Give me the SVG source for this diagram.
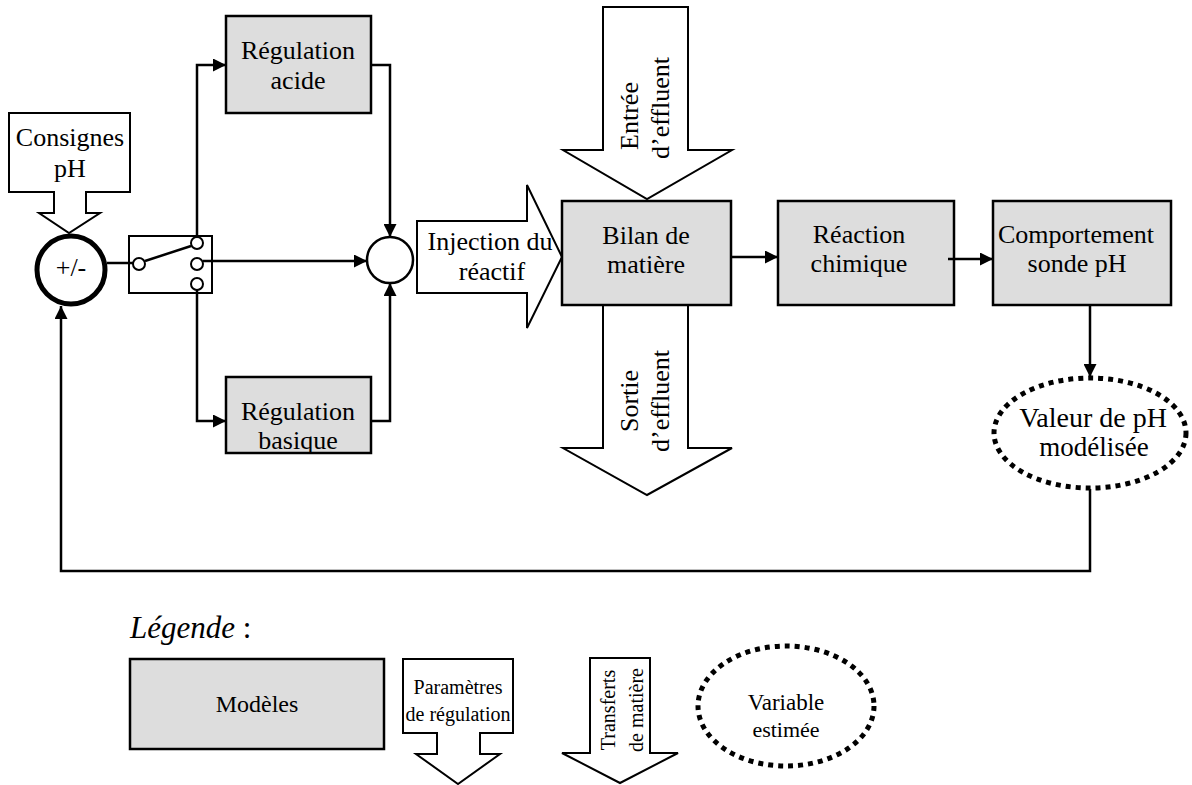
<svg xmlns="http://www.w3.org/2000/svg" width="1192" height="785" viewBox="0 0 1192 785">
<style>
text{font-family:"Liberation Serif","Times New Roman",serif;font-size:26px;fill:#000;text-anchor:middle}
.sm{font-size:20px}
.box{fill:#dddddd;stroke:#000;stroke-width:2.5}
.wb{fill:#fff;stroke:#000;stroke-width:2}
.ln{fill:none;stroke:#000;stroke-width:2.5}
.dot{fill:#fff;stroke:#000;stroke-width:5;stroke-dasharray:5 5}
</style>
<defs>
<marker id="ah" viewBox="0 0 10 10" refX="10" refY="5" markerWidth="15" markerHeight="13" markerUnits="userSpaceOnUse" orient="auto">
<path d="M0,0 L10,5 L0,10 z" fill="#000"/>
</marker>
</defs>
<rect width="1192" height="785" fill="#fff"/>

<g id="consignes">
<polygon class="wb" points="9,113 130,113 130,192 86,192 86,213 100,213 69,233 39,213 54,213 54,192 9,192"/>
<text x="70" y="146">Consignes</text>
<text x="70" y="177">pH</text>
</g>

<g id="comparateur">
<circle cx="71" cy="270" r="34" fill="#fff" stroke="#000" stroke-width="5"/>
<text x="71" y="276">+/-</text>
</g>

<g id="switch">
<rect class="wb" x="129" y="236" width="83" height="57"/>
<circle class="wb" cx="139" cy="264" r="6"/>
<circle class="wb" cx="197" cy="243" r="6"/>
<circle class="wb" cx="197" cy="264" r="6"/>
<circle class="wb" cx="197" cy="284" r="6"/>
<line class="ln" x1="145" y1="261" x2="191" y2="246" stroke-width="2"/>
</g>

<g id="reg-acide">
<rect class="box" x="226" y="16" width="145" height="97"/>
<text x="298" y="59">Régulation</text>
<text x="298" y="89">acide</text>
</g>

<g id="reg-basique">
<rect class="box" x="226" y="377" width="145" height="76"/>
<text x="298" y="420">Régulation</text>
<text x="298" y="449">basique</text>
</g>

<g id="sommateur">
<circle cx="390" cy="260" r="23" fill="#fff" stroke="#000" stroke-width="2.5"/>
</g>

<g id="injection">
<polygon class="wb" points="417,221 527,221 527,185 562,257 527,328 527,293 417,293"/>
<text x="490" y="250">Injection du</text>
<text x="492" y="280">réactif</text>
</g>

<g id="entree">
<polygon class="wb" points="603,7 688,7 688,150 732,150 647,199 563,150 603,150"/>
<text transform="translate(638,116) rotate(-90)">Entrée</text>
<text transform="translate(669,108) rotate(-90)">d’effluent</text>
</g>

<g id="sortie">
<polygon class="wb" points="603,305 688,305 688,448 732,448 647,495 563,448 603,448"/>
<text transform="translate(638,401) rotate(-90)">Sortie</text>
<text transform="translate(669,401) rotate(-90)">d’effluent</text>
</g>

<g id="bilan">
<rect class="box" x="562" y="201" width="169" height="104"/>
<text x="646" y="244">Bilan de</text>
<text x="646" y="273">matière</text>
</g>

<g id="reaction">
<rect class="box" x="778" y="201" width="176" height="104"/>
<text x="859" y="243">Réaction</text>
<text x="859" y="272">chimique</text>
</g>

<g id="comportement">
<rect class="box" x="993" y="201" width="178" height="104"/>
<text x="1076" y="243">Comportement</text>
<text x="1077" y="272">sonde pH</text>
</g>

<g id="valeur-ph">
<ellipse class="dot" cx="1090" cy="433" rx="96" ry="55"/>
<text x="1093" y="427" style="font-size:28px">Valeur de pH</text>
<text x="1094" y="456" style="font-size:27px">modélisée</text>
</g>

<g id="connecteurs">
<line class="ln" x1="107" y1="263" x2="133" y2="263"/>
<polyline class="ln" points="197,237 197,65 226,65" marker-end="url(#ah)"/>
<polyline class="ln" points="371,65 390,65 390,237" marker-end="url(#ah)"/>
<line class="ln" x1="203" y1="261" x2="367" y2="261" marker-end="url(#ah)"/>
<polyline class="ln" points="197,290 197,421 226,421" marker-end="url(#ah)"/>
<polyline class="ln" points="371,421 390,421 390,283" marker-end="url(#ah)"/>
<line class="ln" x1="731" y1="257" x2="778" y2="257" marker-end="url(#ah)"/>
<line class="ln" x1="948" y1="259" x2="993" y2="259" marker-end="url(#ah)"/>
<line class="ln" x1="1090" y1="305" x2="1090" y2="377" marker-end="url(#ah)"/>
<polyline class="ln" points="1090,489 1090,571 61,571 61,306" marker-end="url(#ah)"/>
</g>

<g id="legende">
<text x="130" y="638" style="text-anchor:start;font-size:31px"><tspan font-style="italic">Légende</tspan> :</text>
<g id="leg-modeles">
<rect class="box" x="130" y="659" width="254" height="90"/>
<text x="257" y="712" style="font-size:24px">Modèles</text>
</g>
<g id="leg-parametres">
<polygon class="wb" points="403,659 513,659 513,733 480,733 480,754 500,754 458,784 416,754 437,754 437,733 403,733"/>
<text class="sm" x="458" y="694">Paramètres</text>
<text class="sm" x="458" y="721">de régulation</text>
</g>
<g id="leg-transferts">
<polygon class="wb" points="590,658 650,658 650,753 678,753 620,783 562,753 590,753"/>
<text class="sm" transform="translate(615,710) rotate(-90)">Transferts</text>
<text class="sm" transform="translate(643,710) rotate(-90)">de matière</text>
</g>
<g id="leg-variable">
<ellipse class="dot" cx="786" cy="706" rx="88" ry="60"/>
<text x="786" y="710" style="font-size:23px">Variable</text>
<text x="786" y="737" style="font-size:22px">estimée</text>
</g>
</g>
</svg>
